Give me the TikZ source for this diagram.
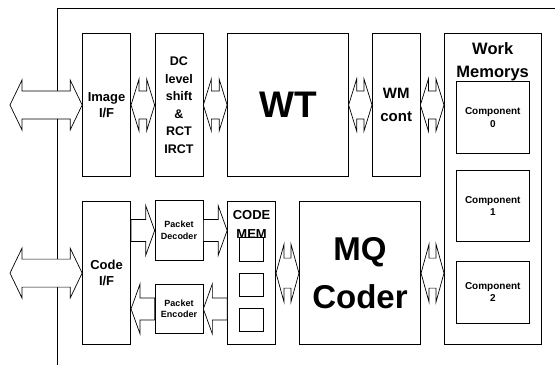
\documentclass[tikz,border=0pt]{standalone}
\usepackage{fontspec}
\setmainfont{Liberation Sans}
\usepackage{tikz}
\usetikzlibrary{calc}

\tikzset{
  blk/.style={draw, line width=0.7pt, inner sep=0pt, align=center, font=\bfseries},
  blkarr/.style={draw, line width=0.7pt, fill=white, line join=miter},
}

% hollow double arrow from #1 (left tip) to #2 (right tip)
\newcommand{\dblarrow}[5]{%
  \draw[blkarr] let \p1=(#1), \p2=(#2) in
    (\x1,\y1) -- (\x1+#3,\y1+#5) -- (\x1+#3,\y1+#4) -- (\x2-#3,\y1+#4)
    -- (\x2-#3,\y1+#5) -- (\x2,\y1) -- (\x2-#3,\y1-#5) -- (\x2-#3,\y1-#4)
    -- (\x1+#3,\y1-#4) -- (\x1+#3,\y1-#5) -- cycle;}
% hollow single arrow, tail at #1, tip at #2
\newcommand{\onearrow}[5]{%
  \draw[blkarr] let \p1=(#1), \p2=(#2), \n1={sign(\x2-\x1)} in
    (\x1,\y1+#4) -- (\x2-\n1*#3,\y1+#4) -- (\x2-\n1*#3,\y1+#5) -- (\x2,\y1)
    -- (\x2-\n1*#3,\y1-#5) -- (\x2-\n1*#3,\y1-#4) -- (\x1,\y1-#4) -- cycle;}

\begin{document}
\begin{tikzpicture}[x=1pt,y=1pt]
    \useasboundingbox (0,0) rectangle (555,365);
    \draw[line width=1pt] (57.7,0) -- (57.7,356) -- (555,356);

    % upper row
    \node[blk, minimum width=48.2pt, minimum height=143.4pt,
          font=\fontsize{13}{16}\selectfont\bfseries] (imgif) at (106.6,260) {Image\\I/F};
    \node[blk, minimum width=48pt, minimum height=143.4pt,
          font=\fontsize{12.5}{17.5}\selectfont\bfseries] (dc) at (179,260)
          {DC\\level\\shift\\\&\\RCT\\IRCT};
    \node[blk, minimum width=120.8pt, minimum height=143.4pt,
          font=\fontsize{37}{37}\selectfont\bfseries] (wt) at (287.9,260) {WT};
    \node[blk, minimum width=47.7pt, minimum height=143.4pt,
          font=\fontsize{15}{23}\selectfont\bfseries] (wm) at (396.2,260) {WM\\cont};

    % work memories
    \node[blk, minimum width=96.7pt, minimum height=311.2pt] (work) at (492.7,176.1) {};
    \node[font=\fontsize{16.5}{23}\selectfont\bfseries, align=center, inner sep=0pt]
          (worktitle) at (492.7,303) {Work\\Memorys};
    \foreach \k/\y/\h in {0/247.5/71.6, 1/159.2/71.7, 2/72.8/62.3} {
        \node[blk, minimum width=72.3pt, minimum height=\h pt,
              font=\fontsize{10}{12.5}\selectfont\bfseries] (comp\k) at (492.8,\y)
              {Component\\\k};
    }

    % lower row
    \node[blk, minimum width=48.2pt, minimum height=142.8pt,
          font=\fontsize{13}{16}\selectfont\bfseries] (codeif) at (106.6,91.9) {Code\\I/F};
    \node[blk, minimum width=48pt, minimum height=60pt,
          font=\fontsize{9}{11.5}\selectfont\bfseries] (pdec) at (179,134.5) {Packet\\Decoder};
    \node[blk, minimum width=48pt, minimum height=48.8pt,
          font=\fontsize{9}{11.5}\selectfont\bfseries] (penc) at (179,56.1) {Packet\\Encoder};
    \node[blk, minimum width=48.2pt, minimum height=142.8pt] (codemem) at (251.6,91.9) {};
    \node[font=\fontsize{13}{19}\selectfont\bfseries, align=center, inner sep=0pt]
          (memtitle) at (251.6,140.5) {CODE\\MEM};
    \foreach \i/\y in {1/115.7, 2/80, 3/45} {
        \node[blk, minimum width=24.3pt, minimum height=23.3pt] (cell\i) at (251.2,\y) {};
    }
    \node[blk, minimum width=121.4pt, minimum height=142.8pt,
          font=\fontsize{33}{48}\selectfont\bfseries] (mq) at (360,91.9) {MQ\\Coder};

    % ports
    \coordinate (imgport) at (10,260);
    \coordinate (codeport) at (10,91.9);

    % arrows
    \dblarrow{imgport}{imgif.west}{12pt}{14pt}{25pt}
    \dblarrow{codeport}{codeif.west}{12pt}{14pt}{25pt}
    \dblarrow{imgif.east}{dc.west}{8pt}{14pt}{26pt}
    \dblarrow{dc.east}{wt.west}{8pt}{14pt}{26pt}
    \dblarrow{wt.east}{wm.west}{8pt}{14pt}{26pt}
    \dblarrow{wm.east}{work.west |- wm.east}{8pt}{14pt}{26pt}
    \dblarrow{codemem.east}{mq.west}{8pt}{15pt}{29pt}
    \dblarrow{mq.east}{work.west |- mq.east}{8pt}{15pt}{29pt}
    \onearrow{codeif.east |- pdec.west}{pdec.west}{9pt}{11pt}{25pt}
    \onearrow{pdec.east}{codemem.west |- pdec.east}{9pt}{11pt}{25pt}
    \onearrow{penc.west}{codeif.east |- penc.west}{9pt}{11pt}{25pt}
    \onearrow{codemem.west |- penc.east}{penc.east}{9pt}{11pt}{25pt}
\end{tikzpicture}
\end{document}
